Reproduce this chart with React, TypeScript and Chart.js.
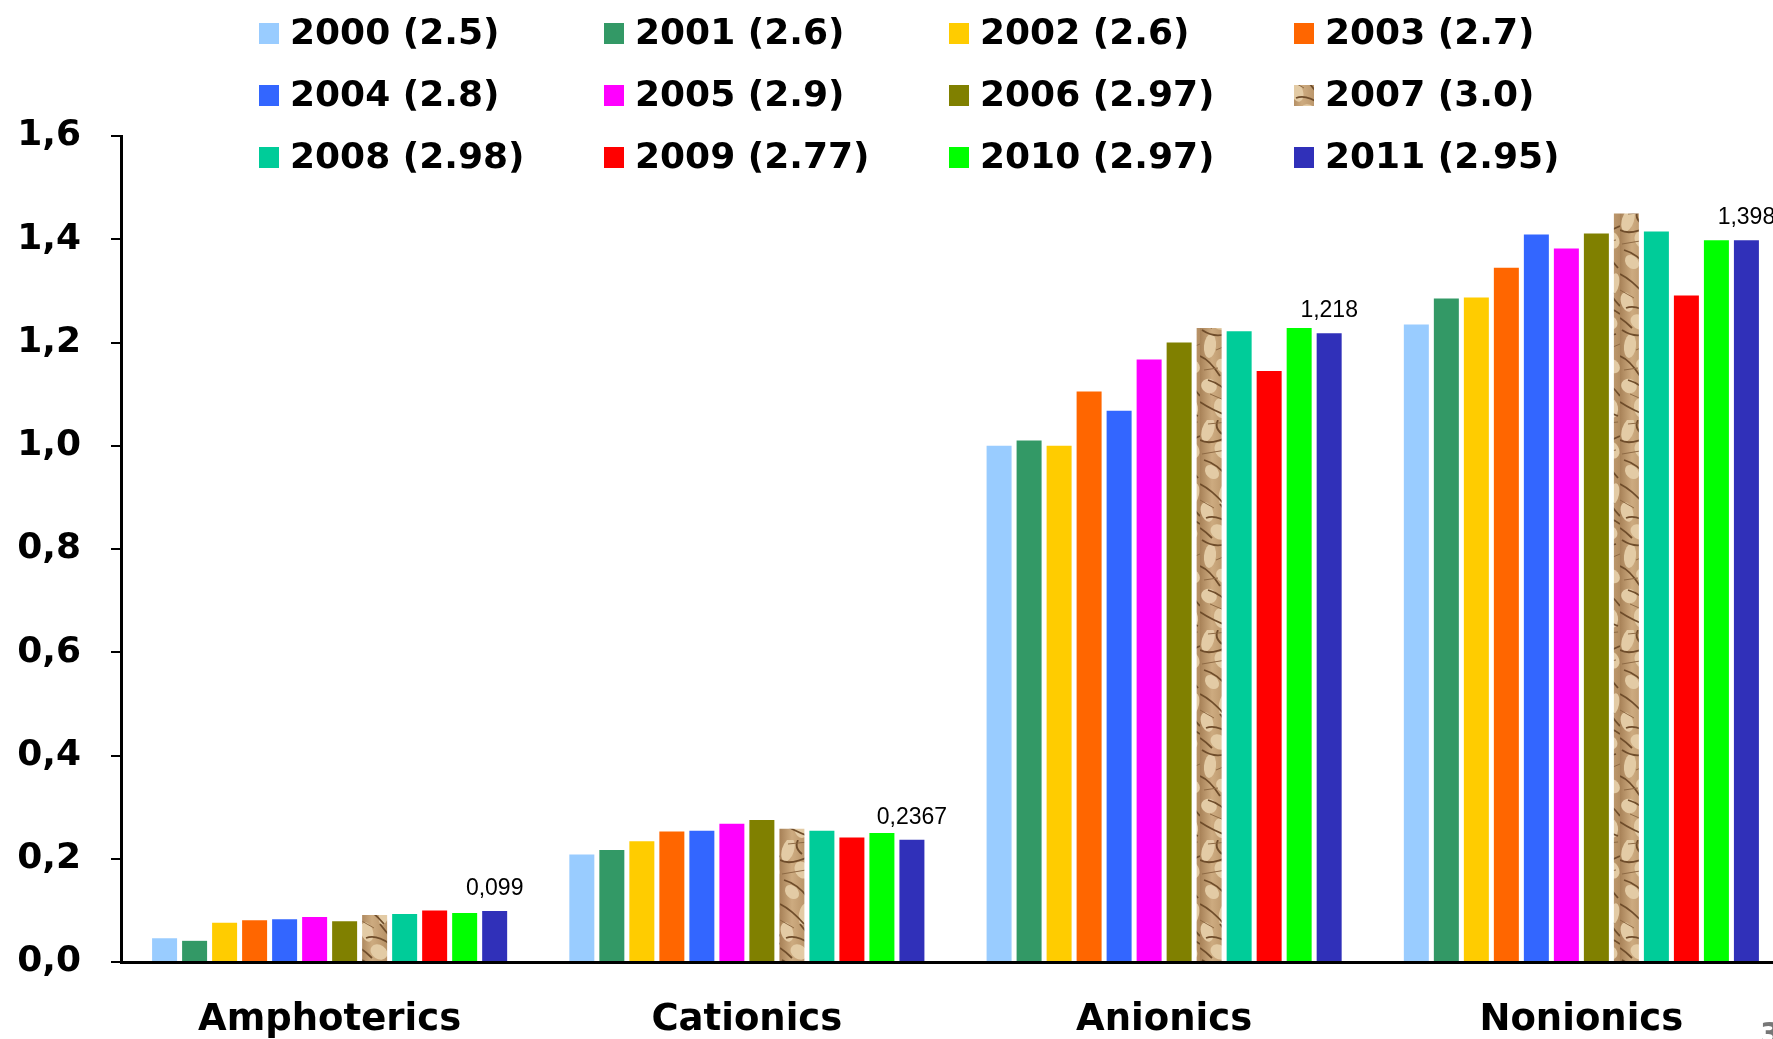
import React, { useEffect, useRef } from 'react';
import { Chart, registerables } from 'chart.js';

Chart.register(...registerables);

// ---------- data ----------
const categories = ['Amphoterics', 'Cationics', 'Anionics', 'Nonionics'];
const seriesLabels = [
  '2000 (2.5)', '2001 (2.6)', '2002 (2.6)', '2003 (2.7)',
  '2004 (2.8)', '2005 (2.9)', '2006 (2.97)', '2007 (3.0)',
  '2008 (2.98)', '2009 (2.77)', '2010 (2.97)', '2011 (2.95)',
];
const seriesColors = [
  '#99ccff', '#339966', '#ffcc00', '#ff6600',
  '#3366ff', '#ff00ff', '#808000', 'paper',
  '#00cc99', '#ff0000', '#00ff00', '#3030b9',
];
const y2000 = [0.046, 0.208, 1.0, 1.235];
const y2001 = [0.041, 0.217, 1.01, 1.285];
const y2002 = [0.076, 0.234, 1.0, 1.287];
const y2003 = [0.081, 0.253, 1.105, 1.345];
const y2004 = [0.083, 0.254, 1.068, 1.409];
const y2005 = [0.087, 0.268, 1.167, 1.382];
const y2006 = [0.079, 0.275, 1.2, 1.411];
const y2007 = [0.091, 0.258, 1.228, 1.45];
const y2008 = [0.093, 0.254, 1.222, 1.415];
const y2009 = [0.1, 0.241, 1.145, 1.291];
const y2010 = [0.095, 0.25, 1.228, 1.398];
const y2011 = [0.099, 0.2367, 1.218, 1.398];
const seriesValues = [y2000, y2001, y2002, y2003, y2004, y2005, y2006, y2007, y2008, y2009, y2010, y2011];
const labelledSeries = 11; // only 2011 carries value labels
const yMin = 0;
const yMax = 1.6;
const yStep = 0.2;

const fmt = (v: number, d?: number) => (d === undefined ? String(v) : v.toFixed(d)).replace('.', ',');

// crumpled paper texture used for the 2007 series (purely decorative)
function makePaperPattern(): CanvasPattern | string {
  const c = document.createElement('canvas');
  c.width = 30;
  c.height = 210;
  const g = c.getContext('2d');
  if (!g) return '#c8a57a';
  const grad = g.createLinearGradient(0, 0, 30, 0);
  grad.addColorStop(0, '#a88258');
  grad.addColorStop(0.4, '#cdab80');
  grad.addColorStop(1, '#b38d62');
  g.fillStyle = grad;
  g.fillRect(0, 0, 30, 210);
  const lights: number[][] = [
    [8, 10, 6, 12, 0.3], [22, 30, 7, 9, -0.5], [12, 52, 8, 6, 0.8], [24, 74, 5, 11, 0.2],
    [7, 92, 6, 10, -0.3], [19, 112, 9, 7, 0.6], [10, 136, 6, 12, 0.1], [23, 156, 6, 8, -0.7],
    [9, 176, 8, 7, 0.5], [21, 198, 7, 10, -0.2],
  ];
  g.fillStyle = '#e3cba5';
  lights.forEach(([x, y, rx, ry, r]) => {
    g.beginPath();
    g.ellipse(x, y, rx, ry, r, 0, Math.PI * 2);
    g.fill();
  });
  const creases: number[][] = [
    [0, 20, 10, 26, 30, 16], [4, 40, 18, 44, 28, 58], [0, 64, 12, 70, 24, 84],
    [6, 98, 16, 94, 30, 104], [18, 0, 14, 8, 22, 14], [2, 120, 14, 128, 26, 124],
    [0, 146, 10, 150, 20, 166], [8, 170, 22, 174, 30, 186], [0, 192, 12, 200, 28, 206],
    [20, 84, 26, 92, 30, 96], [0, 108, 6, 112, 12, 118],
  ];
  g.strokeStyle = '#6f4d2b';
  g.lineWidth = 1.8;
  creases.forEach(([a, b, c2, d, e, f]) => {
    g.beginPath();
    g.moveTo(a, b);
    g.quadraticCurveTo(c2, d, e, f);
    g.stroke();
  });
  g.strokeStyle = '#8e6a44';
  g.lineWidth = 1;
  [[2, 34, 26, 30], [8, 4, 28, 2], [0, 80, 14, 88], [16, 140, 30, 134], [4, 160, 18, 158], [10, 184, 24, 190]].forEach(
    ([a, b, c2, d]) => {
      g.beginPath();
      g.moveTo(a, b);
      g.lineTo(c2, d);
      g.stroke();
    },
  );
  const p = g.createPattern(c, 'repeat');
  return p || '#c8a57a';
}

const decorPlugin = {
  id: 'decor',
  afterDraw(chart: any) {
    const ctx = chart.ctx as CanvasRenderingContext2D;
    ctx.save();
    // legend (4 columns x 3 rows)
    const colX = [259, 604, 949, 1294];
    const rowY = [34, 96, 158];
    ctx.font = 'bold 36px "DejaVu Sans"';
    ctx.textBaseline = 'middle';
    ctx.textAlign = 'left';
    chart.data.datasets.forEach((ds: any, i: number) => {
      const x = colX[i % 4];
      const y = rowY[Math.floor(i / 4)];
      ctx.fillStyle = ds.backgroundColor;
      ctx.fillRect(x, y - 11, 20, 21);
      ctx.fillStyle = '#000';
      ctx.fillText(ds.label, x + 31, y + 1);
    });
    // value labels on the last series
    const meta = chart.getDatasetMeta(labelledSeries);
    ctx.font = '23px "Liberation Sans"';
    ctx.textAlign = 'center';
    ctx.textBaseline = 'alphabetic';
    ctx.fillStyle = '#000';
    meta.data.forEach((el: any, j: number) => {
      ctx.fillText(fmt(seriesValues[labelledSeries][j]), el.x, el.y - 16);
    });
    // page number fragment
    ctx.font = 'bold 30px "DejaVu Sans"';
    ctx.fillStyle = '#777';
    ctx.textAlign = 'left';
    ctx.fillText('3', 1760, 1044);
    ctx.restore();
  },
};

export default function App() {
  const ref = useRef<HTMLCanvasElement | null>(null);
  useEffect(() => {
    if (!ref.current) return;
    const paper = makePaperPattern();
    const chart = new Chart(ref.current, {
      type: 'bar',
      data: {
        labels: categories,
        datasets: seriesLabels.map((label, i) => ({
          label,
          data: seriesValues[i],
          backgroundColor: seriesColors[i] === 'paper' ? (paper as any) : seriesColors[i],
          borderWidth: 0,
          categoryPercentage: 0.863,
          barPercentage: 0.833,
        })),
      },
      options: {
        responsive: false,
        animation: false,
        devicePixelRatio: 1,
        layout: { padding: { top: 136, left: 0, right: 0, bottom: 0 } },
        plugins: {
          legend: { display: false },
          title: { display: false },
          tooltip: { enabled: false },
        },
        scales: {
          x: {
            grid: { display: false, drawTicks: false },
            border: { display: true, color: '#000', width: 3 },
            ticks: {
              padding: 36,
              color: '#000',
              font: { family: '"DejaVu Sans"', size: 37, weight: 'bold' },
            },
            afterFit: (s: any) => { s.height = 77; },
          },
          y: {
            min: yMin,
            max: yMax,
            grid: { drawOnChartArea: false, drawTicks: true, tickLength: 10, color: '#000', lineWidth: 2 },
            border: { display: true, color: '#000', width: 3 },
            ticks: {
              stepSize: yStep,
              padding: 30,
              color: '#000',
              font: { family: '"DejaVu Sans"', size: 36, weight: 'bold' },
              callback: (v: any) => fmt(Number(v), 1),
            },
            afterFit: (s: any) => { s.width = 121; },
          },
        },
      } as any,
      plugins: [decorPlugin],
    });
    return () => chart.destroy();
  }, []);
  return (
    <div style={{ position: 'fixed', left: 0, top: 0, width: 1773, height: 1039, overflow: 'hidden', background: '#fff' }}>
      <canvas ref={ref} width={1790} height={1039} style={{ width: 1790, height: 1039, display: 'block' }} />
    </div>
  );
}
